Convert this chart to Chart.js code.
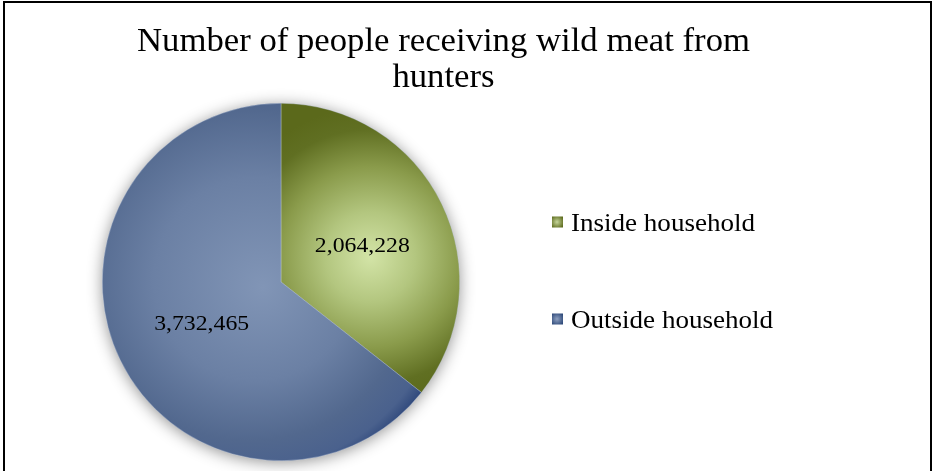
<!DOCTYPE html>
<html>
<head>
<meta charset="utf-8">
<script src="https://cdn.jsdelivr.net/npm/chart.js@4.4.0/dist/chart.umd.min.js"></script>
<style>
html,body{margin:0;padding:0;background:#fff;}
canvas{display:block;}
</style>
</head>
<body>
<canvas id="c" width="932" height="471"></canvas>
<script>
const titleLines = ["Number of people receiving wild meat from", "hunters"];
const categories = ["Inside household", "Outside household"];
const values = [2064228, 3732465];
const valueLabels = ["2,064,228", "3,732,465"];

const FONT = '"Liberation Serif", Georgia, "Times New Roman", serif';

// draw text at a given size, stretched horizontally so it spans refWidth for refText
function drawFit(ctx, text, x, y, size, refText, refWidth, align) {
  ctx.font = size + 'px ' + FONT;
  const sx = refWidth / ctx.measureText(refText).width;
  ctx.save();
  ctx.translate(x, y);
  ctx.scale(sx, 1);
  ctx.textAlign = align;
  ctx.fillText(text, 0, 0);
  ctx.restore();
}

const gradientPlugin = {
  id: 'grad',
  beforeDatasetsDraw(chart) {
    const ctx = chart.ctx;
    const meta = chart.getDatasetMeta(0);
    const a0 = meta.data[0];
    ctx.save();
    ctx.shadowColor = 'rgba(0,0,0,0.45)';
    ctx.shadowBlur = 16;
    ctx.shadowOffsetY = 2;
    ctx.fillStyle = '#5a6a8a';
    ctx.beginPath();
    ctx.arc(a0.x, a0.y, a0.outerRadius - 0.5, 0, Math.PI * 2);
    ctx.fill();
    ctx.restore();

    const R = a0.outerRadius, cx = a0.x, cy = a0.y;
    const g1 = ctx.createRadialGradient(cx + 0.5 * R, cy - 0.14 * R, 0, cx + 0.5 * R, cy - 0.14 * R, 0.84 * R);
    g1.addColorStop(0, '#d3e4a7');
    g1.addColorStop(0.3, '#b3c67f');
    g1.addColorStop(0.6, '#8a9b4b');
    g1.addColorStop(0.85, '#606f22');
    g1.addColorStop(1, '#5b691b');
    meta.data[0].options.backgroundColor = g1;
    const g2 = ctx.createRadialGradient(cx - 0.1 * R, cy + 0.03 * R, 0, cx - 0.2 * R, cy - 0.07 * R, 1.26 * R);
    g2.addColorStop(0, '#8195b6');
    g2.addColorStop(0.45, '#6b80a4');
    g2.addColorStop(0.74, '#52688e');
    g2.addColorStop(0.88, '#4a618d');
    g2.addColorStop(1, '#1d376f');
    meta.data[1].options.backgroundColor = g2;
  }
};

const decorPlugin = {
  id: 'decor',
  afterDraw(chart) {
    const ctx = chart.ctx;
    const meta = chart.getDatasetMeta(0);
    ctx.save();
    ctx.strokeStyle = '#000';
    ctx.lineWidth = 2;
    ctx.strokeRect(4, 2, 927, 520);

    ctx.fillStyle = '#000';
    ctx.textBaseline = 'alphabetic';
    drawFit(ctx, titleLines[0], 443.5, 51, 34, titleLines[0], 613, 'center');
    drawFit(ctx, titleLines[1], 443.5, 87, 34, titleLines[0], 613, 'center');

    ctx.textBaseline = 'middle';
    meta.data.forEach((arc, i) => {
      const mid = (arc.startAngle + arc.endAngle) / 2;
      const r = arc.outerRadius * 0.5;
      drawFit(ctx, valueLabels[i], arc.x + Math.cos(mid) * r + 1, arc.y + Math.sin(mid) * r + 3.5,
              21, valueLabels[0], 95, 'center');
    });

    const legY = [222, 319];
    const boxCols = [['#c5d59a', '#5e6c1e'], ['#8ea0c0', '#2f4a7a']];
    categories.forEach((cat, i) => {
      const y = legY[i];
      const gr = ctx.createRadialGradient(557, y, 0, 557, y, 7);
      gr.addColorStop(0, boxCols[i][0]);
      gr.addColorStop(1, boxCols[i][1]);
      ctx.fillStyle = gr;
      ctx.fillRect(552, y - 5.5, 11, 11);
      ctx.fillStyle = '#000';
      ctx.textBaseline = 'alphabetic';
      drawFit(ctx, cat, 571, y + 8.5, 25, categories[0], 184, 'left');
    });
    ctx.restore();
  }
};

new Chart(document.getElementById('c'), {
  type: 'pie',
  data: {
    labels: categories,
    datasets: [{
      data: values,
      backgroundColor: ['#7a8a3a', '#5a7098'],
      borderWidth: 0.6,
      borderColor: 'rgba(200,210,230,0.6)'
    }]
  },
  options: {
    responsive: false,
    animation: false,
    events: [],
    layout: { padding: { left: 102, right: 472, top: 103, bottom: 10 } },
    plugins: {
      legend: { display: false },
      title: { display: false },
      tooltip: { enabled: false }
    }
  },
  plugins: [gradientPlugin, decorPlugin]
});
</script>
</body>
</html>
